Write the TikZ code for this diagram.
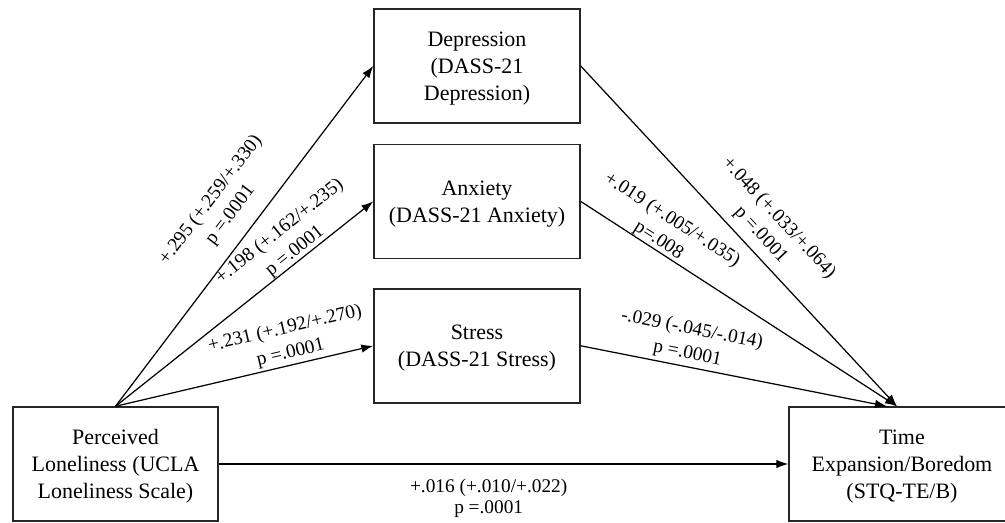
\documentclass[tikz,border=0pt]{standalone}
\usepackage{fontspec}
\setmainfont{Liberation Serif}
\usetikzlibrary{positioning,arrows.meta}

\begin{document}
\begin{tikzpicture}[
  node distance=4mm,
  varbox/.style={draw=black!85,line width=0.8pt,minimum height=22.8mm,
    align=center,font=\fontsize{12.5}{15.5}\selectfont,inner sep=2pt,
    text depth=-2mm},
  lbl/.style={font=\fontsize{11}{14}\selectfont,align=center,inner sep=0pt,sloped},
  conn/.style={draw,line width=0.7pt,-{Latex[length=2.4mm,width=1.7mm]}}
  ]
  \useasboundingbox (0,0) rectangle (20.1,10.46);
  \clip (0,0) rectangle (20.1,10.46);

  % predictor and outcome
  \node (lon) [varbox,minimum width=41mm] at (2.31,1.18)
    {Perceived\\Loneliness (UCLA\\Loneliness Scale)};
  \node (time) [varbox,minimum width=45.2mm] at (18.04,1.18)
    {Time\\Expansion/Boredom\\(STQ-TE/B)};

  % mediators
  \node (dep) [varbox,minimum width=41.2mm] at (9.54,9.14)
    {Depression\\(DASS-21\\Depression)};
  \node (anx) [varbox,minimum width=41.2mm,below=of dep]
    {Anxiety\\(DASS-21 Anxiety)};
  \node (str) [varbox,minimum width=41.2mm,below=of anx,yshift=-1.8mm]
    {Stress\\(DASS-21 Stress)};

  % a paths
  \path [conn] (lon.north) -- node [lbl,pos=0.52,above=0.29cm]
    {+.295 (+.259/+.330)\\p =.0001} (dep.west);
  \path [conn] (lon.north) -- node [lbl,pos=0.72,above=0.01cm]
    {+.198 (+.162/+.235)\\p =.0001} (anx.west);
  \path [conn] (lon.north) -- node [lbl,pos=0.69,above=0.05cm]
    {+.231 (+.192/+.270)\\p =.0001} (str.west);

  % b paths
  \path [conn] (dep.east) -- node [lbl,pos=0.53,above=0.15cm]
    {+.048 (+.033/+.064)\\p =.0001} ([xshift=-1mm]time.north);
  \path [conn] (anx.east) -- node [lbl,pos=0.23,above=0cm]
    {+.019 (+.005/+.035)\\p=.008} ([xshift=-1mm]time.north);
  \path [conn] (str.east) -- node [lbl,pos=0.34,above=0.07cm]
    {-.029 (-.045/-.014)\\p =.0001} ([xshift=-3mm]time.north);

  % direct path
  \path [conn] (lon.east) -- node [lbl,pos=0.474,below=0.28cm,
    font=\fontsize{11}{12}\selectfont]
    {+.016 (+.010/+.022)\\p =.0001} (time.west);
\end{tikzpicture}
\end{document}
